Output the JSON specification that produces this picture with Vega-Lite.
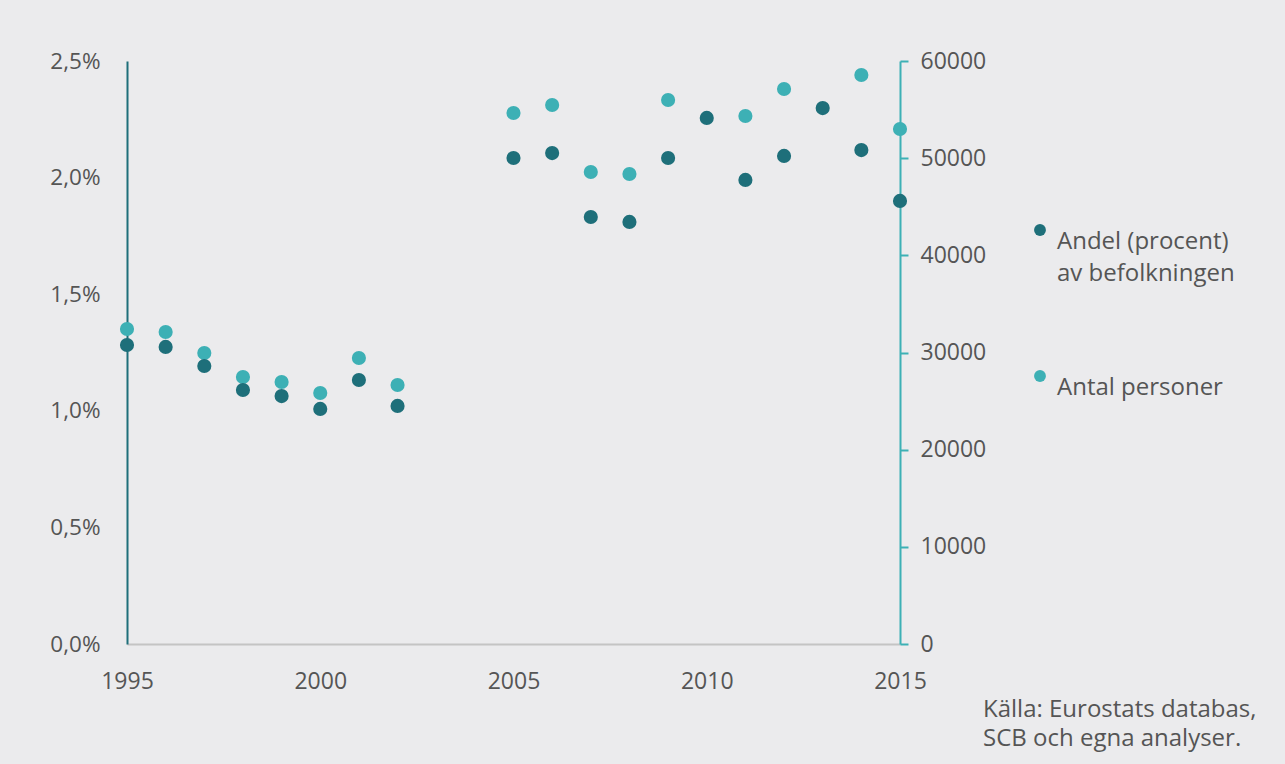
{
  "$schema": "https://vega.github.io/schema/vega-lite/v6.json",
  "width": 773,
  "height": 583,
  "autosize": {"type": "none"},
  "padding": {"left": 127, "top": 61, "right": 385, "bottom": 120},
  "background": "#ebebed",
  "config": {
    "view": {"stroke": null},
    "font": "Open Sans",
    "style": {"guide-label": {"lineHeight": 32}}
  },
  "title": {
    "text": ["Källa: Eurostats databas,", "SCB och egna analyser."],
    "orient": "bottom",
    "anchor": "start",
    "frame": "group",
    "dx": 856,
    "offset": 5,
    "fontSize": 24,
    "fontWeight": "normal",
    "color": "#555555",
    "lineHeight": 29
  },
  "data": {
    "values": [
      {"year": 1995, "andel": 1.282, "antal": 32418},
      {"year": 1996, "andel": 1.274, "antal": 32110},
      {"year": 1997, "andel": 1.192, "antal": 29949},
      {"year": 1998, "andel": 1.089, "antal": 27479},
      {"year": 1999, "andel": 1.063, "antal": 26964},
      {"year": 2000, "andel": 1.008, "antal": 25832},
      {"year": 2001, "andel": 1.132, "antal": 29434},
      {"year": 2002, "andel": 1.021, "antal": 26655},
      {"year": 2005, "andel": 2.084, "antal": 54648},
      {"year": 2006, "andel": 2.105, "antal": 55472},
      {"year": 2007, "andel": 1.831, "antal": 48576},
      {"year": 2008, "andel": 1.810, "antal": 48370},
      {"year": 2009, "andel": 2.084, "antal": 55986},
      {"year": 2010, "andel": 2.256, "antal": null},
      {"year": 2011, "andel": 1.990, "antal": 54339},
      {"year": 2012, "andel": 2.093, "antal": 57118},
      {"year": 2013, "andel": 2.298, "antal": null},
      {"year": 2014, "andel": 2.118, "antal": 58559},
      {"year": 2015, "andel": 1.900, "antal": 53002}
    ]
  },
  "encoding": {
    "x": {
      "field": "year",
      "type": "quantitative",
      "scale": {"domain": [1995, 2015], "nice": false, "zero": false},
      "axis": {
        "title": null,
        "values": [1995, 2000, 2005, 2010, 2015],
        "format": "d",
        "ticks": false,
        "grid": false,
        "labelFlush": false,
        "domainColor": "#c4c4c4",
        "domainWidth": 2,
        "labelFontSize": 23,
        "labelColor": "#555555",
        "labelPadding": 26
      }
    }
  },
  "layer": [
    {
      "mark": {"type": "point", "filled": true, "size": 200, "opacity": 1},
      "encoding": {
        "y": {
          "field": "antal",
          "type": "quantitative",
          "scale": {"domain": [0, 60000], "nice": false},
          "axis": {
            "orient": "right",
            "title": null,
            "values": [0, 10000, 20000, 30000, 40000, 50000, 60000],
            "format": "d",
            "grid": false,
            "labelFlush": false,
            "domainColor": "#3db0b5",
            "domainWidth": 2,
            "tickColor": "#3db0b5",
            "tickWidth": 2,
            "tickSize": 8,
            "labelFontSize": 23,
            "labelColor": "#555555",
            "labelPadding": 12
          }
        },
        "color": {
          "datum": "Antal personer",
          "type": "nominal",
          "scale": {
            "domain": ["Andel (procent) av befolkningen", "Antal personer"],
            "range": ["#1e6f7a", "#3db0b5"]
          },
          "legend": {
            "title": null,
            "orient": "none",
            "legendX": 901,
            "legendY": 157,
            "symbolType": "circle",
            "symbolSize": 140,
            "symbolStrokeWidth": 0,
            "labelFontSize": 24,
            "labelColor": "#555555",
            "labelOffset": 5,
            "labelBaseline": "top",
            "labelLimit": 300,
            "rowPadding": 78,
            "labelExpr": "datum.label == 'Antal personer' ? datum.label : ['Andel (procent)', 'av befolkningen']"
          }
        }
      }
    },
    {
      "mark": {"type": "point", "filled": true, "size": 200, "opacity": 1},
      "encoding": {
        "y": {
          "field": "andel",
          "type": "quantitative",
          "scale": {"domain": [0, 2.5], "nice": false},
          "axis": {
            "orient": "left",
            "title": null,
            "values": [0, 0.5, 1, 1.5, 2, 2.5],
            "labelExpr": "replace(format(datum.value, '.1f'), '.', ',') + '%'",
            "grid": false,
            "ticks": false,
            "labelFlush": false,
            "domainColor": "#1e6f7a",
            "domainWidth": 2,
            "labelFontSize": 22.5,
            "labelColor": "#555555",
            "labelPadding": 27
          }
        },
        "color": {"datum": "Andel (procent) av befolkningen", "type": "nominal"}
      }
    }
  ],
  "resolve": {"scale": {"y": "independent"}}
}
